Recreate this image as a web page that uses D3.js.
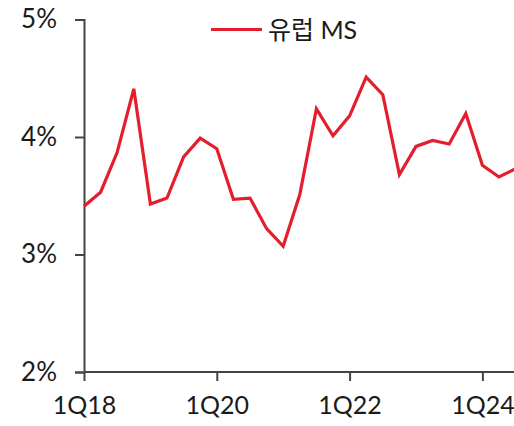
<!DOCTYPE html>
<html>
<head>
<meta charset="utf-8">
<script src="https://cdn.jsdelivr.net/npm/d3@7"></script>
<style>
  body { margin: 0; background: #fff; }
  text { font-family: "Lato", "Noto Sans CJK KR", sans-serif; fill: #1a1a1a; }
</style>
</head>
<body>
<div id="chart"></div>
<script>
var width = 514;
var height = 426;

// quarterly, 1Q18 .. 3Q24
var quarters = ["1Q18","2Q18","3Q18","4Q18","1Q19","2Q19","3Q19","4Q19",
  "1Q20","2Q20","3Q20","4Q20","1Q21","2Q21","3Q21","4Q21",
  "1Q22","2Q22","3Q22","4Q22","1Q23","2Q23","3Q23","4Q23",
  "1Q24","2Q24","3Q24"];
var europeMS = [3.41, 3.53, 3.87, 4.41, 3.43, 3.48, 3.83, 3.99,
  3.90, 3.47, 3.48, 3.22, 3.07, 3.51, 4.24, 4.01,
  4.18, 4.51, 4.36, 3.68, 3.92, 3.97, 3.94, 4.20,
  3.76, 3.66, 3.73];
var yTicks = [2, 3, 4, 5];
var xTickLabels = ["1Q18", "1Q20", "1Q22", "1Q24"];
var seriesName = "유럽 MS";

var margin = {top: 19.5, left: 84, bottom: 54, right: 0};

var svg = d3.select("#chart")
  .append("svg")
  .attr("width", width)
  .attr("height", height);

var x = d3.scalePoint()
  .domain(quarters)
  .range([margin.left, margin.left + 16.6 * (quarters.length - 1)]);

var y = d3.scaleLinear()
  .domain([2, 5])
  .range([372, margin.top]);

// y axis
var yAxis = svg.append("g")
  .attr("transform", "translate(" + margin.left + ",0)")
  .call(d3.axisLeft(y).tickValues(yTicks).tickSize(9).tickPadding(18)
    .tickFormat(function(d) { return d + "%"; }));

yAxis.select(".domain").attr("stroke", "#444").attr("stroke-width", 2);
yAxis.selectAll(".tick line").attr("stroke", "#444").attr("stroke-width", 2);
yAxis.selectAll(".tick text")
  .attr("font-size", 26)
  .attr("fill", "#1a1a1a")
  .attr("font-family", "Lato, 'Noto Sans CJK KR', sans-serif");

// x axis
var xAxis = svg.append("g")
  .attr("transform", "translate(0," + y(2) + ")")
  .call(d3.axisBottom(x).tickValues(xTickLabels).tickSize(9).tickPadding(15).tickSizeOuter(0));

xAxis.select(".domain").attr("stroke", "#444").attr("stroke-width", 2)
  .attr("d", "M" + margin.left + ",0H" + width);
xAxis.selectAll(".tick line").attr("stroke", "#444").attr("stroke-width", 2);
xAxis.selectAll(".tick text")
  .attr("font-size", 25)
  .attr("fill", "#1a1a1a")
  .attr("font-family", "Lato, 'Noto Sans CJK KR', sans-serif");

// line
var line = d3.line()
  .x(function(d, i) { return x(quarters[i]); })
  .y(function(d) { return y(d); });

svg.append("path")
  .datum(europeMS)
  .attr("fill", "none")
  .attr("stroke", "#e31e2d")
  .attr("stroke-width", 3.2)
  .attr("stroke-linejoin", "miter")
  .attr("d", line);

// legend
var legend = svg.append("g").attr("transform", "translate(211,29.5)");
legend.append("line")
  .attr("x1", 0).attr("x2", 51)
  .attr("stroke", "#e31e2d").attr("stroke-width", 3.2);
legend.append("text")
  .attr("x", 57).attr("y", 0)
  .attr("dy", "0.36em")
  .attr("font-size", 25)
  .text(seriesName);
</script>
</body>
</html>
